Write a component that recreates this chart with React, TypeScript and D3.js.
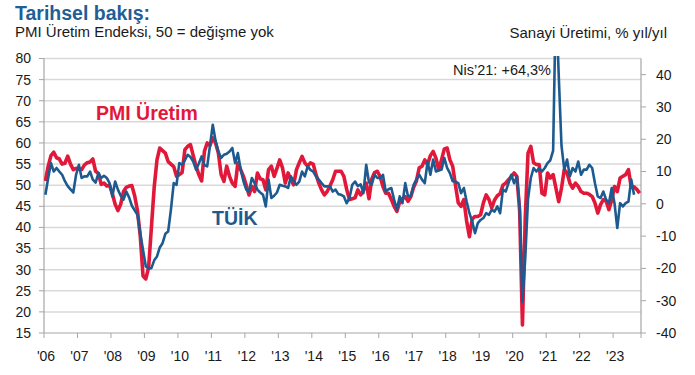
import React from "react";
import * as d3 from "d3";

// Monthly series, Jan 2006 onwards
const yearLabels = ["'06", "'07", "'08", "'09", "'10", "'11", "'12", "'13", "'14", "'15", "'16", "'17", "'18", "'19", "'20", "'21", "'22", "'23"];
const leftTicks = [15, 20, 25, 30, 35, 40, 45, 50, 55, 60, 65, 70, 75, 80];
const rightTicks = [-40, -30, -20, -10, 0, 10, 20, 30, 40];

// PMI Üretim Endeksi (Jan 2006 – Oct 2023)
const pmiOutput = [
  51, 54.5, 57, 57.8, 56.5, 56.2, 55, 55.2, 56.9, 55, 53.7, 54,
  53.8, 53.7, 54.8, 55.3, 55.5, 56.2, 53.3, 52.8, 50.2, 50.5, 49.8, 50,
  48, 45.5, 44, 45.5, 48.5, 49.5, 49.8, 49.9, 47.5, 44, 38, 28.5,
  27.8, 30.5, 40, 49.5, 56, 58.8, 58.2, 57.6, 55.6, 55, 54.4, 52.1,
  52.5, 53, 58.4, 59.2, 59.6, 57, 54.5, 52.5, 51, 58, 60, 59.4,
  61.2, 60, 57.6, 52.5, 50.9, 54.5, 52.1, 50.5, 49.7, 55.3, 53.7, 52.1,
  50, 47.7, 49.7, 48.5, 52.9, 51.5, 51.3, 48.9, 53.7, 54.5, 52.1, 54,
  56, 54.1, 50.5, 52.9, 51.3, 50.1, 53.7, 55.3, 56.8, 55.3, 54.5, 55.3,
  55, 52.5, 50.5, 48.9, 47.7, 48.5, 49.8, 51.3, 53.3, 53.3, 53.3, 52.1,
  49, 46.6, 46.8, 47, 48.9, 47.7, 48.7, 50.5, 46.8, 51.5, 53, 53.3,
  52, 49.7, 48.1, 48.1, 46.6, 45, 43.8, 46, 46.8, 47.3, 46.2, 47.3,
  49.5, 51, 54.1, 54.5, 56, 54.9, 57, 58, 56.4, 53.7, 56, 58.6,
  58.8, 56, 54.5, 50, 45.8, 45, 46.6, 41.5, 37.8, 42, 42.6, 42.6,
  43, 45.8, 47.7, 46.6, 44.6, 46.5, 47.5, 48, 50, 50.5, 51.3, 52,
  52.9, 52.1, 44, 16.9, 42, 57.6, 59.2, 55.3, 54.9, 54.9, 48.1, 47.7,
  52.9, 51.7, 52.5, 49.3, 46.1, 49.3, 53.7, 52.9, 50.5, 49.3, 50.5, 49.7,
  48.5, 48.1, 48.1, 47.8, 47.3, 45.8, 43.4, 45.4, 46.6, 46.2, 44.2, 46.5,
  49.7, 48.5, 51.7, 52.1, 52.5, 53.7, 49.5, 49.6, 49, 48.1,
];

// TÜİK Sanayi Üretimi, % yıl/yıl (Jan 2006 – Aug 2023)
const industrialProduction = [
  2.8, 8, 12.6, 10, 11.1, 10, 9, 7, 5.5, 4.5, 3.5, 9,
  12.1, 8, 8.5, 8.5, 10, 7.5, 6.6, 9.5, 8, 8.7, 8, 6.4,
  2.3, 6.9, 4.4, 2.5, 1.3, 3.8, 2, -0.6, -2, -3.4, -9.1, -14.3,
  -19.4, -20, -19.9, -17.5, -16.3, -13.5, -12.2, -9.3, -8.6, -1.8, 6.4, 5.9,
  12.6, 12.1, 13.5, 15.2, 14.5, 13.1, 10.6, 12.5, 14.7, 12, 11.6, 18,
  24.5, 19.5, 16.2, 14.2, 15.2, 15.5, 16.2, 17.3, 12.6, 15.7, 10.6, 7,
  4.4, 3.8, 8, 6.4, 4.4, 3.5, 2.8, -0.8, 7.5, 1.8, 2.5, 3.5,
  5.9, 5.6, 5.4, 4.9, 8.5, 7, 5.9, 6.9, 10, 8.5, 11.6, 10.5,
  10, 8.5, 7.5, 6.4, 5.4, 5.4, 5.4, 3.8, 4.4, 3, 2.8, 2.3,
  0.2, 1.8, 5.9, 6.9, 5.5, 6, 3.3, 12.1, 6.6, 6, 9, 8,
  8, 9, 3.8, 4.5, 4.9, 1.3, -1.8, 2.3, 0.2, 6.4, 2.3, 2.3,
  5.9, 7.5, 9, 7.5, 6.4, 13.1, 9, 13.7, 10, 10.3, 10.6, 14.2,
  11.1, 9.5, 7, 6.9, 6.4, 3.3, 4.9, 0.7, -2.9, -5.5, -9.1, -6,
  -5, -4.4, -2.9, -3.4, -1.8, -2.4, -0.8, -2.9, 4.4, 3.8, 6.4, 9,
  6.4, 8.5, -1, -30.3, -17, 1.5, 8, 11.1, 10, 11.1, 10, 11.1,
  12.6, 13.5, 16.5, 64.3, 40, 18, 10.6, 13.7, 8.5, 11.1, 10, 13.1,
  9, 10.6, 10.6, 12.1, 11.1, 6.4, 2.3, 1.8, 3.8, 1.3, 0.2, 4.9,
  0.2, -7.5, 0.2, -0.8, 0.2, 0.7, 7.5, 2.8,
];

const RED = "#e2183b";
const BLUE = "#1d5a8f";
const FONT = "'Liberation Sans', Arial, sans-serif";

export default function App() {
  const W = 695;
  const H = 375;
  const left = 44;
  const right = 641;
  const top = 58.5;
  const bottom = 333;
  const nMonths = 214;

  const x = d3.scaleLinear().domain([0, nMonths]).range([left, right]);
  const yL = d3.scaleLinear().domain([15, 80]).range([bottom, top]);
  const yR = d3.scaleLinear().domain([-40, 45]).range([bottom, top]);

  const pmiLine = d3
    .line<number>()
    .x((_, i) => x(i + 0.5))
    .y((d) => yL(d))
    .curve(d3.curveLinear);
  const ipLine = d3
    .line<number>()
    .x((_, i) => x(i + 0.5))
    .y((d) => yR(d))
    .curve(d3.curveLinear);

  const axisColor = "#a6a6a6";
  const gridColor = "#d9d9d9";
  const textColor = "#1a1a1a";

  return (
    <svg
      width={W}
      height={H}
      style={{ position: "absolute", left: 0, top: 0, background: "#fff" }}
      fontFamily={FONT}
    >
      <defs>
        <clipPath id="plotClip">
          <rect x={left} y={56} width={right - left} height={bottom - 56 + 4} />
        </clipPath>
      </defs>

      {/* gridlines */}
      {leftTicks.slice(1).map((t) => (
        <line key={"g" + t} x1={left} x2={right} y1={yL(t)} y2={yL(t)} stroke={gridColor} strokeWidth={1.5} />
      ))}

      {/* axes */}
      <line x1={left} x2={left} y1={top} y2={bottom} stroke={axisColor} strokeWidth={1.2} />
      <line x1={right} x2={right} y1={top} y2={bottom} stroke={axisColor} strokeWidth={1.2} />
      <line x1={left} x2={right} y1={bottom} y2={bottom} stroke={axisColor} strokeWidth={1.2} />

      {/* left ticks */}
      {leftTicks.map((t) => (
        <g key={"l" + t}>
          <line x1={left - 5} x2={left} y1={yL(t)} y2={yL(t)} stroke={axisColor} strokeWidth={1} />
          <text x={31} y={yL(t)} dy="0.35em" textAnchor="end" fontSize={14} fill={textColor}>
            {t}
          </text>
        </g>
      ))}

      {/* right ticks */}
      {rightTicks.map((t) => (
        <g key={"r" + t}>
          <line x1={right} x2={right + 5} y1={yR(t)} y2={yR(t)} stroke={axisColor} strokeWidth={1} />
          <text x={656} y={yR(t)} dy="0.35em" textAnchor="start" fontSize={14} fill={textColor}>
            {t}
          </text>
        </g>
      ))}

      {/* x ticks & labels */}
      {yearLabels.map((lab, k) => (
        <g key={"x" + lab}>
          <line x1={x(k * 12)} x2={x(k * 12)} y1={bottom} y2={bottom + 5} stroke={axisColor} strokeWidth={1} />
          <text x={x(k * 12) + 2} y={361} textAnchor="middle" fontSize={14} fill={textColor}>
            {lab}
          </text>
        </g>
      ))}
      <line x1={right} x2={right} y1={bottom} y2={bottom + 5} stroke={axisColor} strokeWidth={1} />

      {/* series */}
      <g clipPath="url(#plotClip)">
        <path d={pmiLine(pmiOutput) ?? ""} fill="none" stroke={RED} strokeWidth={3.6} strokeLinejoin="round" />
        <path d={ipLine(industrialProduction) ?? ""} fill="none" stroke={BLUE} strokeWidth={2.6} strokeLinejoin="round" />
      </g>

      {/* titles */}
      <text x={15} y={20} fontSize={19.5} fontWeight="bold" fill="#1f5e96">
        Tarihsel bakış:
      </text>
      <text x={15} y={37} fontSize={15} fill={textColor}>
        PMI Üretim Endeksi, 50 = değişme yok
      </text>
      <text x={667} y={38} fontSize={15} textAnchor="end" fill={textColor}>
        Sanayi Üretimi, % yıl/yıl
      </text>

      {/* series labels */}
      <text x={96} y={120} fontSize={19.5} fontWeight="bold" fill={RED}>
        PMI Üretim
      </text>
      <text x={212} y={225} fontSize={19.5} fontWeight="bold" fill={BLUE}>
        TÜİK
      </text>
      <text x={551} y={74.5} fontSize={14.5} textAnchor="end" fill={textColor}>
        Nis’21: +64,3%
      </text>
    </svg>
  );
}
